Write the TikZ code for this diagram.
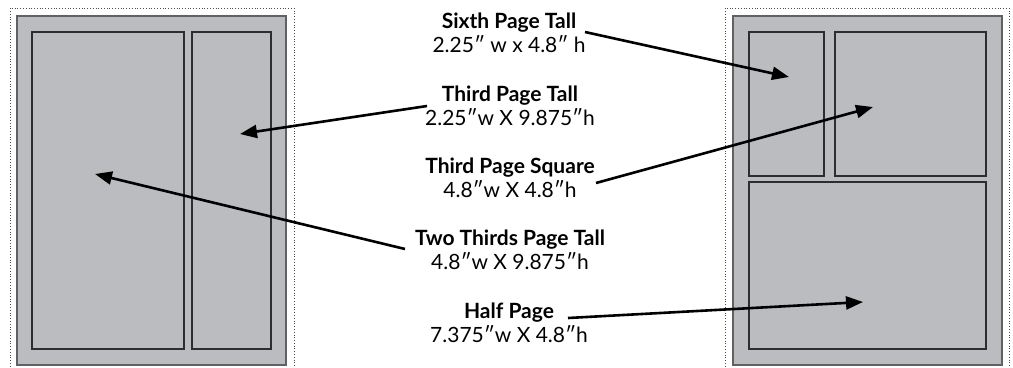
\documentclass[tikz,border=0pt]{standalone}
\usepackage{fontspec}
\setmainfont{Lato}
\usetikzlibrary{arrows.meta}
\definecolor{pagegray}{RGB}{187,188,192}
\definecolor{edge}{RGB}{45,45,48}
\tikzset{
  outerdot/.style={draw=black!70, line width=0.8bp, dotted},
  page/.style={draw=edge!75, line width=1.2bp, fill=pagegray},
  adbox/.style={draw=edge, line width=1.1bp},
  pointer/.style={line width=2.6bp, -{Triangle[length=17bp,width=13bp]}},
  lbl/.style={align=center, font=\fontsize{21bp}{23.5bp}\selectfont, inner sep=0pt}
}
\begin{document}
\begin{tikzpicture}[x=1bp,y=-1bp]
\useasboundingbox (0,0) rectangle (1013,367);
% left page
\draw[outerdot] (10,400) -- (10,8) -- (294,8) -- (294,400);
\draw[page] (17,16) rectangle (286,365);
\node[adbox, minimum width=152bp, minimum height=317bp, inner sep=0pt] (twothirds) at (108,190.5) {};
\node[adbox, minimum width=79bp, minimum height=317bp, inner sep=0pt] (thirdtall) at (231.5,190.5) {};
% right page
\draw[outerdot] (725,400) -- (725,8) -- (1009,8) -- (1009,400);
\draw[page] (733,16) rectangle (1002,365);
\node[adbox, minimum width=75bp, minimum height=144bp, inner sep=0pt] (sixth) at (786.5,104) {};
\node[adbox, minimum width=151bp, minimum height=144bp, inner sep=0pt] (square) at (910.5,104) {};
\node[adbox, minimum width=237bp, minimum height=167bp, inner sep=0pt] (half) at (867.5,265.5) {};
% labels
\node[lbl] (lsixth) at (509,33) {\textbf{Sixth Page Tall}\\2.25″ w x 4.8″ h};
\node[lbl] (lthirdtall) at (510,106) {\textbf{Third Page Tall}\\2.25″w X 9.875″h};
\node[lbl] (lsquare) at (510,178) {\textbf{Third Page Square}\\4.8″w X 4.8″h};
\node[lbl] (ltwothirds) at (510,250) {\textbf{Two Thirds Page Tall}\\4.8″w X 9.875″h};
\node[lbl] (lhalf) at (509,323) {\textbf{Half Page}\\7.375″w X 4.8″h};
% arrow ends
\coordinate (s1) at (585,32);
\coordinate (t1) at (789,77);
\coordinate (s2) at (427,106);
\coordinate (t2) at (240,134);
\coordinate (s3) at (596,183);
\coordinate (t3) at (873,107);
\coordinate (s4) at (405,249);
\coordinate (t4) at (95,174);
\coordinate (s5) at (568,318);
\coordinate (t5) at (863,302);
\draw[pointer] (s1) -- (t1);
\draw[pointer] (s2) -- (t2);
\draw[pointer] (s3) -- (t3);
\draw[pointer] (s4) -- (t4);
\draw[pointer] (s5) -- (t5);
\end{tikzpicture}
\end{document}
